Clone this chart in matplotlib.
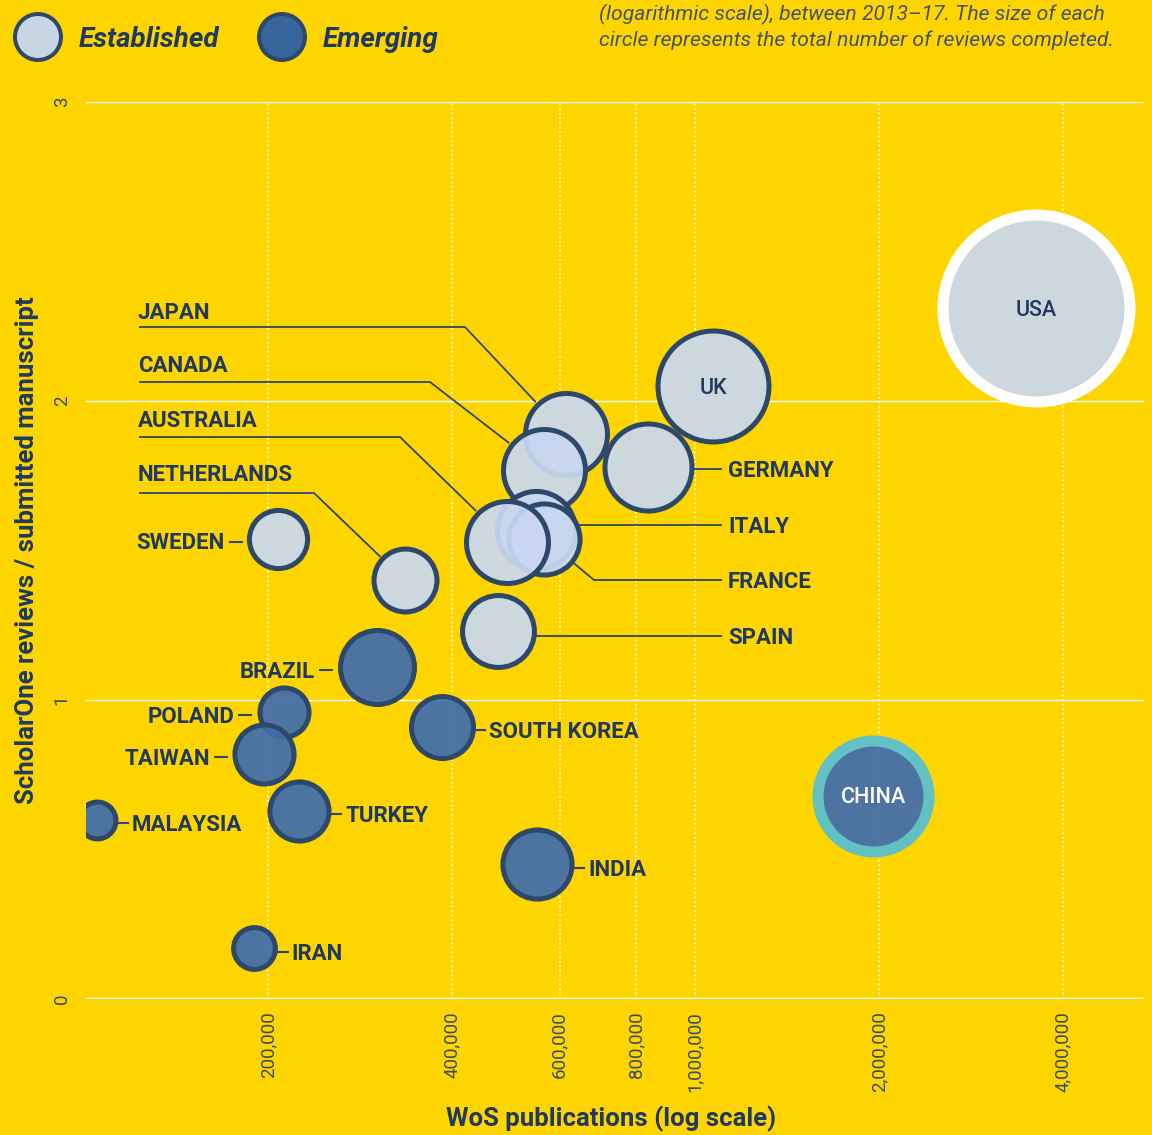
import numpy as np
import matplotlib.pyplot as plt
from matplotlib.lines import Line2D
from matplotlib.patches import Circle
from matplotlib.transforms import Affine2D

# --- data ---
countries = ["USA", "UK", "GERMANY", "JAPAN", "CANADA", "ITALY", "FRANCE", "AUSTRALIA",
             "SPAIN", "NETHERLANDS", "SWEDEN", "CHINA", "BRAZIL", "SOUTH KOREA", "INDIA",
             "TURKEY", "POLAND", "TAIWAN", "IRAN", "MALAYSIA"]
groups = ["Established"] * 11 + ["Emerging"] * 9
wos_publications = [3613000, 1070000, 836000, 614000, 565000, 550000, 566000, 493000,
                    475000, 335000, 208000, 1956000, 301000, 385000, 551000,
                    225000, 212000, 197000, 190000, 105000]
reviews_per_manuscript = [2.31, 2.05, 1.78, 1.89, 1.77, 1.57, 1.54, 1.53,
                          1.23, 1.40, 1.54, 0.68, 1.11, 0.91, 0.45,
                          0.63, 0.96, 0.82, 0.17, 0.60]
# total reviews completed (thousands), estimated from circle area
total_reviews = [900, 317, 195, 173, 173, 157, 130, 173,
                 133, 102, 87, 317, 141, 99, 123,
                 90, 62, 90, 45, 35]
x_ticks = [200000, 400000, 600000, 800000, 1000000, 2000000, 4000000]
y_ticks = [0, 1, 2, 3]

# --- style ---
W, H, DPI = 1152, 1135, 100
BG = "#FFD500"
NAVY = "#1F3A5E"
EDGE = "#2D4869"
TICK = "#3A4D66"
FILL = {"Established": "#C8D8F0", "Emerging": "#3F6DAE"}
LEGEND_FILL = {"Established": "#C8D6E4", "Emerging": "#35659A"}
FACE_ALPHA = 0.93
SIZE_K = 20.14            # points^2 per thousand reviews
RING = {"USA": "#FFFFFF", "CHINA": "#62C2C3"}
LW_PX = 5.0
RING_PX = 11.0
LBL_PT = 16

plt.rcParams["font.family"] = ["Roboto", "DejaVu Sans"]

fig = plt.figure(figsize=(W / DPI, H / DPI), dpi=DPI, facecolor=BG)
ax = fig.add_axes([86 / W, 1 - 999 / H, (1144 - 86) / W, (999 - 102) / H])
ax.set_facecolor(BG)
ax.set_xscale("log")
ax.set_xlim(1.007e5, 5.43e6)
ax.set_ylim(0, 3)
for sp in ax.spines.values():
    sp.set_visible(False)

ax.set_xticks(x_ticks, labels=[f"{v:,}" for v in x_ticks])
ax.xaxis.set_minor_locator(plt.NullLocator())
ax.set_yticks(y_ticks, labels=[str(v) for v in y_ticks])
ax.tick_params(axis="x", length=0, pad=9, labelsize=13.5, labelcolor=TICK)
ax.tick_params(axis="y", length=0, pad=11, labelsize=13.5, labelcolor=TICK)
for lbl in ax.get_xticklabels():
    lbl.set_rotation(90)
for lbl in ax.get_yticklabels():
    lbl.set_rotation(90)
    lbl.set_va("center")

for xv in x_ticks:
    ax.axvline(xv, color="white", lw=1.1, ls=(0, (1.2, 1.8)), zorder=0.5)
for yv in y_ticks:
    ax.axhline(yv, color="white", lw=2.4 if yv == 0 else 1.0, zorder=0.6)

# pixel transform (origin top-left)
pix = Affine2D().scale(1, -1).translate(0, H)

geom = {}
for i, name in enumerate(countries):
    s = total_reviews[i] * SIZE_K
    fc = list(plt.matplotlib.colors.to_rgba(FILL[groups[i]]))
    fc[3] = FACE_ALPHA
    ec = RING.get(name, EDGE)
    lw_px = RING_PX if name in RING else LW_PX
    ax.scatter(wos_publications[i], reviews_per_manuscript[i], s=s, facecolor=[fc],
               edgecolor=ec, linewidth=lw_px * 72 / DPI, zorder=2 + i * 0.01)
    dx, dy = ax.transData.transform((wos_publications[i], reviews_per_manuscript[i]))
    r = np.sqrt(s) / 2 * DPI / 72 + lw_px / 2
    geom[name] = (dx, H - dy, r)


def label(x, y, txt, ha="left", color=NAVY, size=LBL_PT, weight="bold"):
    c = size * DPI / 72 * 0.711
    fig.text(x, y + c / 2, txt, transform=pix, ha=ha, va="baseline",
             fontsize=size, fontweight=weight, color=color)


def seg(xs, ys, lw=1.3):
    fig.add_artist(Line2D(xs, ys, transform=pix, color=EDGE, lw=lw,
                          solid_capstyle="butt"))


def edge_toward(name, px, py):
    cx, cy, r = geom[name]
    d = np.hypot(px - cx, py - cy)
    return cx + r * (px - cx) / d, cy + r * (py - cy) / d


# labels inside bubbles
for name, col in [("USA", NAVY), ("UK", NAVY), ("CHINA", "white")]:
    cx, cy, r = geom[name]
    label(cx, cy, name, ha="center", color=col, size=15.5, weight="medium")

# labels with underline and elbow
elbow_labels = {"JAPAN": (311, 327, 465), "CANADA": (364, 382, 430),
                "AUSTRALIA": (419, 437, 400), "NETHERLANDS": (473, 493, 314)}
for name, (ty, ly, ex) in elbow_labels.items():
    label(138, ty, name)
    bx, by = edge_toward(name, ex, ly)
    seg([139, ex, bx], [ly, ly, by])

# right column labels
column_labels = {"GERMANY": (469, None), "ITALY": (525, None),
                 "FRANCE": (580, 594), "SPAIN": (636, None)}
for name, (ly, ex) in column_labels.items():
    label(728, ly, name)
    cx, cy, r = geom[name]
    if ex is None:
        sx = cx + np.sqrt(max(r ** 2 - (ly - cy) ** 2, 0))
        seg([sx - 1, 722], [ly, ly])
    else:
        bx, by = edge_toward(name, ex, ly)
        seg([bx, ex, 722], [by, ly, ly])

# short dash labels
for name in ["MALAYSIA", "TURKEY", "IRAN", "SOUTH KOREA", "INDIA"]:
    cx, cy, r = geom[name]
    ly = cy + 3.5
    seg([cx + r - 1, cx + r + 11], [ly, ly], lw=1.5)
    label(cx + r + 14, ly, name)
for name in ["SWEDEN", "BRAZIL", "POLAND", "TAIWAN"]:
    cx, cy, r = geom[name]
    ly = cy + 3
    seg([cx - r - 4, cx - r - 18], [ly, ly], lw=1.5)
    label(cx - r - 22, ly, name, ha="right")

# axis titles
axis_font = ["Liberation Sans Narrow", "Roboto", "DejaVu Sans"]
fig.text(611, 1119, "WoS publications (log scale)", transform=pix, ha="center",
         va="center", fontsize=18.5, fontweight="bold", color=NAVY, family=axis_font)
fig.text(27, 550, "ScholarOne reviews / submitted manuscript", transform=pix,
         ha="center", va="center", rotation=90, fontsize=18.5, fontweight="bold",
         color=NAVY, family=axis_font)

# legend
for (lx, tx, grp) in [(38, 79, "Established"), (282, 323, "Emerging")]:
    fig.add_artist(Circle((lx, 37), 23, transform=pix, facecolor=LEGEND_FILL[grp],
                          edgecolor=EDGE, lw=4 * 72 / DPI))
    fig.text(tx, 37 + 20 * DPI / 72 * 0.711 / 2, grp, transform=pix, ha="left",
             va="baseline", fontsize=20, fontweight="bold", style="italic", color=NAVY)

# note (top right, partly cut off)
note = ["(logarithmic scale), between 2013\u201317. The size of each",
        "circle represents the total number of reviews completed."]
for k, line in enumerate(note):
    fig.text(599, 13 + 26 * k + 14.5 * DPI / 72 * 0.711 / 2, line, transform=pix,
             ha="left", va="baseline", fontsize=15.2, fontweight="normal",
             style="italic", color="#46536A")

fig.savefig("out.png", dpi=DPI, facecolor=BG)
